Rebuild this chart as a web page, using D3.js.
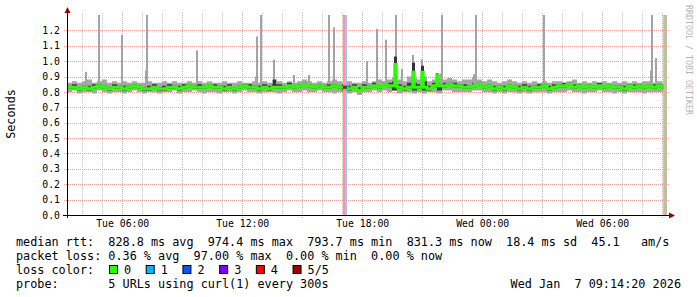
<!DOCTYPE html>
<html>
<head>
<meta charset="utf-8">
<script src="https://cdn.jsdelivr.net/npm/d3@7"></script>
<style>
  html, body { margin: 0; padding: 0; background: #fff; }
  svg { display: block; }
  text { font-family: 'DejaVu Sans Mono', monospace; fill: #000; }
</style>
</head>
<body>
<div id="chart"></div>
<script>
const parseTime = d3.timeParse('%Y-%m-%d %H:%M:%S')
const parseShort = d3.timeParse('%Y-%m-%d %H:%M')
const timeStart = parseTime('2026-01-06 03:14:20')
const timeEnd = parseTime('2026-01-07 09:14:20')
const sampleMinutes = 15

// median rtt (s), one value per 15 min
const median = [
  .83,.83,.82,.83,.82,.83,.84,.83,.82,.83, .83,.82,.83,.84,.83,.82,.82,.83,.82,.82,
  .83,.83,.82,.83,.84,.83,.83,.83,.84,.83, .83,.82,.83,.82,.83,.84,.83,.83,.82,.83,
  .82,.83,.83,.83,.84,.83,.84,.85,.84,.83, .84,.83,.83,.84,.83,.83,.82,.83,.81,.83,
  .83,.84,.83,.85,.84,.84,.83,.82,.83,.83, .83,.83,.82,.84,.84,.84,.85,.84,.84,.83,
  .83,.84,.85,.83,.84,.82,.83,.82,.84,.83, .82,.83,.82,.83,.83,.84,.82,.83,.84,.84,
  .85,.83,.84,.83,.84,.83,.84,.83,.84,.83, .83,.82,.84,.83,.84,.83,.84,.83,.84,.83
]
// single 5-min median samples that jump out of the band
const medianBurstTimes = ['2026-01-06 19:38', '2026-01-06 20:31', '2026-01-06 21:00', '2026-01-06 21:43']
const medianBurstValues = [0.98, 0.93, 0.93, 0.91]

// lowest / 2nd / 4th / highest ping
const pingLo = [
  .80,.81,.79,.80,.80,.79,.81,.80,.79,.80, .80,.79,.80,.81,.80,.79,.80,.80,.79,.80,
  .80,.81,.79,.80,.80,.81,.80,.79,.80,.80, .79,.80,.80,.79,.80,.81,.80,.80,.79,.80,
  .80,.80,.79,.80,.81,.80,.80,.81,.80,.80, .81,.80,.80,.79,.80,.80,.79,.80,.78,.80,
  .80,.81,.80,.81,.80,.81,.79,.80,.80,.79, .80,.79,.80,.80,.79,.81,.81,.80,.80,.80,
  .80,.81,.81,.80,.80,.79,.80,.79,.80,.80, .79,.80,.79,.80,.80,.80,.79,.80,.80,.80,
  .81,.80,.80,.79,.80,.80,.81,.80,.80,.79, .80,.79,.80,.80,.80,.79,.80,.80,.80,.80
]
const pingLo2 = [
  .82,.82,.81,.82,.81,.82,.83,.82,.81,.82, .82,.81,.82,.83,.82,.81,.81,.82,.81,.81,
  .82,.82,.81,.82,.83,.82,.82,.82,.83,.82, .82,.81,.82,.81,.82,.83,.82,.82,.81,.82,
  .81,.82,.82,.82,.83,.82,.83,.84,.83,.82, .83,.82,.82,.83,.82,.81,.81,.82,.80,.82,
  .82,.83,.82,.84,.83,.81,.82,.81,.82,.81, .82,.81,.81,.83,.81,.83,.84,.83,.83,.82,
  .82,.83,.84,.82,.83,.81,.82,.81,.83,.82, .81,.82,.81,.82,.82,.83,.81,.82,.83,.83,
  .84,.82,.83,.82,.83,.82,.83,.82,.83,.82, .82,.81,.83,.82,.83,.82,.83,.82,.83,.82
]
const pingHi2 = [
  .84,.85,.83,.84,.84,.85,.85,.84,.83,.85, .84,.84,.84,.85,.84,.83,.84,.85,.83,.84,
  .85,.84,.84,.85,.85,.84,.85,.84,.85,.85, .84,.84,.85,.83,.84,.85,.85,.84,.84,.85,
  .84,.85,.85,.84,.86,.84,.85,.86,.85,.84, .85,.84,.85,.85,.84,.85,.84,.85,.83,.85,
  .84,.86,.84,.86,.86,.87,.85,.84,.86,.86, .85,.87,.84,.86,.86,.86,.86,.86,.85,.85,
  .84,.86,.86,.84,.85,.84,.84,.84,.85,.84, .84,.85,.84,.84,.85,.85,.84,.85,.85,.86,
  .86,.85,.85,.84,.85,.84,.86,.84,.85,.84, .84,.84,.85,.85,.85,.84,.85,.85,.85,.84
]
const pingHi = [
  .86,.87,.86,.87,.88,.86,.87,.88,.86,.87, .86,.87,.86,.87,.86,.86,.87,.86,.86,.87,
  .86,.87,.86,.86,.87,.86,.87,.86,.87,.86, .86,.87,.86,.86,.87,.86,.86,.87,.86,.87,
  .86,.88,.87,.86,.87,.86,.87,.88,.87,.86, .87,.86,.87,.88,.87,.86,.87,.86,.86,.87,
  .86,.87,.88,.87,.88,.89,.88,.87,.90,.89, .88,.90,.87,.88,.89,.88,.89,.88,.87,.88,
  .88,.89,.88,.87,.88,.87,.86,.87,.88,.87, .86,.87,.86,.87,.86,.87,.86,.87,.87,.86,
  .87,.88,.86,.87,.86,.87,.86,.87,.86,.87, .86,.87,.86,.87,.86,.87,.87,.86,.87,.86
]

// single slow pings
const spikeTimes = [
  '2026-01-06 04:10', '2026-01-06 04:49', '2026-01-06 06:00', '2026-01-06 07:10', '2026-01-06 07:14',
  '2026-01-06 09:45', '2026-01-06 12:40', '2026-01-06 12:45', '2026-01-06 12:55', '2026-01-06 13:35',
  '2026-01-06 14:35', '2026-01-06 15:21', '2026-01-06 16:20', '2026-01-06 16:34', '2026-01-06 18:15',
  '2026-01-06 18:45', '2026-01-06 19:10', '2026-01-06 19:40', '2026-01-06 20:00', '2026-01-06 20:31',
  '2026-01-06 21:00', '2026-01-06 21:43', '2026-01-06 21:56', '2026-01-06 22:00', '2026-01-06 23:35',
  '2026-01-06 23:40', '2026-01-07 03:04', '2026-01-07 08:25', '2026-01-07 08:30', '2026-01-07 08:40'
]
const spikeTops = [
  0.93, 1.30, 1.17, 0.94, 1.30,
  1.07, 0.90, 1.16, 1.30, 1.01,
  0.91, 0.91, 1.30, 1.22, 1.00,
  1.21, 1.14, 1.30, 0.95, 1.04,
  1.01, 0.92, 0.92, 1.30, 0.915,
  1.30, 1.30, 0.94, 1.30, 1.02
]
const darkSpikeTimes = ['2026-01-06 13:35', '2026-01-06 19:38', '2026-01-06 20:31', '2026-01-06 21:00', '2026-01-06 21:43']
const darkSpikeTops = [0.88, 1.03, 0.99, 0.97, 0.92]

const lossStarts = ['2026-01-06 17:02', '2026-01-06 17:09']
const lossEnds = ['2026-01-06 17:09', '2026-01-06 17:14']
const lossCounts = [4, 2]
const unknownFrom = '2026-01-07 09:03'

const yTickValues = [0, 0.1, 0.2, 0.3, 0.4, 0.5, 0.6, 0.7, 0.8, 0.9, 1.0, 1.1, 1.2]
const xTickLabels = ['2026-01-06 06:00', '2026-01-06 12:00', '2026-01-06 18:00', '2026-01-07 00:00', '2026-01-07 06:00']

const lossLabels = ['0', '1', '2', '3', '4', '5/5']
const lossColors = ['#26ff00', '#00b8ff', '#0059ff', '#7e00ff', '#ff0000', '#a10000']

const rttValues = [828.8, 974.4, 793.7, 831.3, 18.4]
const rttNames = ['avg', 'max', 'min', 'now', 'sd']
const amPerSec = 45.1
const lossValues = [0.36, 97.00, 0.00, 0.00]
const lossNames = ['avg', 'max', 'min', 'now']
const probeText = '5 URLs using curl(1) every 300s'

class SmokePlotter {
  constructor({ selector, width, height }) {
    this.width = width
    this.height = height
    this.left = 67
    this.right = 667
    this.top = 15
    this.bottom = 215
    this.svg = d3.select(selector).append('svg')
      .attr('width', width)
      .attr('height', height)
    this.x = d3.scaleTime().domain([timeStart, timeEnd]).range([this.left, this.right])
    this.y = d3.scaleLinear().domain([0, 1.3]).range([this.bottom, this.top])
  }

  _samples() {
    const rows = median.map((m, i) => ({
      t: d3.timeMinute.offset(timeStart, i * sampleMinutes),
      m, lo: pingLo[i], lo2: pingLo2[i], hi2: pingHi2[i], hi: pingHi[i]
    }))
    rows.push(Object.assign({}, rows[rows.length - 1], { t: timeEnd }))
    return rows
  }

  _medianAt(t) {
    return median[Math.min(median.length - 1, Math.floor(d3.timeMinute.count(timeStart, t) / sampleMinutes))]
  }

  drawGrid() {
    const x = this.x, y = this.y
    const g = this.svg.append('g')
    g.selectAll('.minor')
      .data(x.ticks(d3.timeHour.every(1)))
      .enter().append('line')
      .attr('x1', d => Math.round(x(d)) + 0.5).attr('x2', d => Math.round(x(d)) + 0.5)
      .attr('y1', this.top - 2).attr('y2', this.bottom)
      .attr('stroke', '#c4c4c4').attr('stroke-dasharray', '1,1')
    g.selectAll('.major')
      .data(x.ticks(d3.timeHour.every(3)))
      .enter().append('line')
      .attr('x1', d => Math.round(x(d)) + 0.5).attr('x2', d => Math.round(x(d)) + 0.5)
      .attr('y1', this.top - 2).attr('y2', this.bottom + 3)
      .attr('stroke', '#ee9a9a').attr('stroke-dasharray', '1,1')
    g.selectAll('.hgrid')
      .data(yTickValues.filter(v => v > 0))
      .enter().append('line')
      .attr('x1', this.left - 3).attr('x2', this.right + 3)
      .attr('y1', d => Math.round(y(d)) + 0.5).attr('y2', d => Math.round(y(d)) + 0.5)
      .attr('stroke', '#ee9a9a').attr('stroke-dasharray', '1,1')
  }

  drawSmoke() {
    const x = this.x, y = this.y
    const rows = this._samples()
    const outer = d3.area().curve(d3.curveStepAfter)
      .x(d => x(d.t)).y0(d => y(d.lo)).y1(d => y(d.hi))
    const inner = d3.area().curve(d3.curveStepAfter)
      .x(d => x(d.t)).y0(d => y(d.lo2)).y1(d => y(d.hi2))
    this.svg.append('path').datum(rows).attr('d', outer).attr('fill', '#a6a6a6')
    this.svg.append('path').datum(rows).attr('d', inner).attr('fill', '#3c3c3c')

    this.svg.append('g').selectAll('rect')
      .data(spikeTimes.map((t, i) => ({ t: parseShort(t), v: spikeTops[i] })))
      .enter().append('rect')
      .attr('x', d => Math.round(x(d.t)) - 1).attr('width', 2)
      .attr('y', d => y(d.v)).attr('height', d => y(0.85) - y(d.v))
      .attr('fill', '#a3a3a3')
    this.svg.append('g').selectAll('rect')
      .data(darkSpikeTimes.map((t, i) => ({ t: parseShort(t), v: darkSpikeTops[i] })))
      .enter().append('rect')
      .attr('x', d => Math.round(x(d.t)) - 1).attr('width', 3)
      .attr('y', d => y(d.v)).attr('height', d => y(0.83) - y(d.v))
      .attr('fill', '#333')

    // loss background
    this.svg.append('g').selectAll('rect')
      .data(lossStarts.map((s, i) => ({ a: parseShort(s), b: parseShort(lossEnds[i]), n: lossCounts[i] })))
      .enter().append('rect')
      .attr('x', d => x(d.a)).attr('width', d => x(d.b) - x(d.a))
      .attr('y', this.top).attr('height', this.bottom - this.top)
      .attr('fill', d => d3.interpolateRgb(lossColors[d.n], '#fff')(0.58))

    // unknown tail
    const tail = parseShort(unknownFrom)
    this.svg.append('rect')
      .attr('x', x(tail)).attr('width', x(timeEnd) - x(tail))
      .attr('y', this.top).attr('height', this.bottom - this.top)
      .attr('fill', '#c4bd9c')

    const line = d3.line().curve(d3.curveStepAfter).x(d => x(d.t)).y(d => y(d.m))
    this.svg.append('path')
      .datum(rows.filter(d => d.t < tail).concat([{ t: tail, m: median[median.length - 1] }]))
      .attr('d', line).attr('fill', 'none')
      .attr('stroke', lossColors[0]).attr('stroke-width', 3)

    // short median jumps
    medianBurstTimes.forEach((s, i) => {
      const t = parseShort(s)
      const x0 = Math.round(x(t)) - 0.5
      const base = y(this._medianAt(t))
      const top = y(medianBurstValues[i])
      this.svg.append('path')
        .attr('d', `M${x0},${base} V${top} H${x0 + 2} V${base}`)
        .attr('fill', 'none').attr('stroke', lossColors[0]).attr('stroke-width', 2.5)
    })

    lossStarts.forEach((s, i) => {
      const a = parseShort(s)
      const m = this._medianAt(a)
      this.svg.append('line')
        .attr('x1', x(a)).attr('x2', x(parseShort(lossEnds[i])))
        .attr('y1', y(m)).attr('y2', y(m))
        .attr('stroke', d3.interpolateRgb(lossColors[lossCounts[i]], '#000')(0.3)).attr('stroke-width', 3)
    })
  }

  drawAxes() {
    const x = this.x, y = this.y
    const arrow = '#9a0000'
    this.svg.append('line')
      .attr('x1', this.left + 0.5).attr('x2', this.left + 0.5)
      .attr('y1', this.bottom + 3).attr('y2', 9).attr('stroke', '#000')
    this.svg.append('line')
      .attr('x1', this.left - 4).attr('x2', this.right + 5)
      .attr('y1', this.bottom + 0.5).attr('y2', this.bottom + 0.5).attr('stroke', '#000')
    this.svg.append('path')
      .attr('d', `M${this.left - 2.5},13 L${this.left + 3.5},13 L${this.left + 0.5},7 Z`).attr('fill', arrow)
    this.svg.append('path')
      .attr('d', `M${this.right + 2},${this.bottom - 2.5} L${this.right + 2},${this.bottom + 3.5} L${this.right + 8},${this.bottom + 0.5} Z`).attr('fill', arrow)

    const yAxis = this.svg.append('g')
      .attr('transform', `translate(${this.left},0)`)
      .call(d3.axisLeft(y).tickValues(yTickValues).tickFormat(d3.format('.1f')).tickSize(0).tickPadding(7))
    yAxis.select('.domain').remove()
    yAxis.selectAll('text').style('font-family', "'DejaVu Sans Mono', monospace").style('font-size', '9.8px').attr('fill', '#000')

    const xAxis = this.svg.append('g')
      .attr('transform', `translate(0,${this.bottom})`)
      .call(d3.axisBottom(x).tickValues(xTickLabels.map(parseShort)).tickFormat(d3.timeFormat('%a %H:%M')).tickSize(0).tickPadding(5))
    xAxis.select('.domain').remove()
    xAxis.selectAll('text').style('font-family', "'DejaVu Sans Mono', monospace").style('font-size', '9.8px').attr('fill', '#000')

    this.svg.append('text')
      .attr('transform', `translate(15,${(this.top + this.bottom) / 2 - 1}) rotate(-90)`)
      .attr('text-anchor', 'middle')
      .style('font-size', '11.8px')
      .text('Seconds')

    this.svg.append('text')
      .attr('transform', 'translate(685,5) rotate(90)')
      .attr('dy', '-0.1em')
      .style('font-size', '8.3px').style('fill', '#b4b4b4')
      .text('RRDTOOL / TOBI OETIKER')
  }

  drawLegend() {
    const fmt1 = d3.format('.1f'), fmt2 = d3.format('.2f')
    const rows = [
      'median rtt:  ' + rttValues.map((v, i) => `${fmt1(v)} ms ${rttNames[i]}`).join('  ') + `  ${fmt1(amPerSec)}   am/s`,
      'packet loss: ' + lossValues.map((v, i) => `${fmt2(v)} % ${lossNames[i]}`).join('  '),
      'loss color:',
      'probe:       ' + probeText
    ]
    const g = this.svg.append('g').style('font-size', '11.8px')
    g.selectAll('text')
      .data(rows)
      .enter().append('text')
      .attr('x', 16).attr('y', (d, i) => 245.8 + i * 14)
      .style('white-space', 'pre')
      .text(d => d)

    let cx = 109
    lossLabels.forEach((label, i) => {
      g.append('rect')
        .attr('x', cx + 0.5).attr('y', 265.5).attr('width', 8).attr('height', 8)
        .attr('fill', lossColors[i]).attr('stroke', '#000')
      g.append('text').attr('x', cx + 15).attr('y', 273.8).text(label)
      cx += 15 + label.length * 7.11 + 14.6
    })

    g.append('text')
      .attr('x', 681).attr('y', 287.8).attr('text-anchor', 'end')
      .style('white-space', 'pre')
      .text(d3.timeFormat('%a %b %e %H:%M:%S %Y')(timeEnd))
  }

  render() {
    this.drawGrid()
    this.drawSmoke()
    this.drawAxes()
    this.drawLegend()
  }
}

new SmokePlotter({ selector: '#chart', width: 697, height: 297 }).render()
</script>
</body>
</html>
